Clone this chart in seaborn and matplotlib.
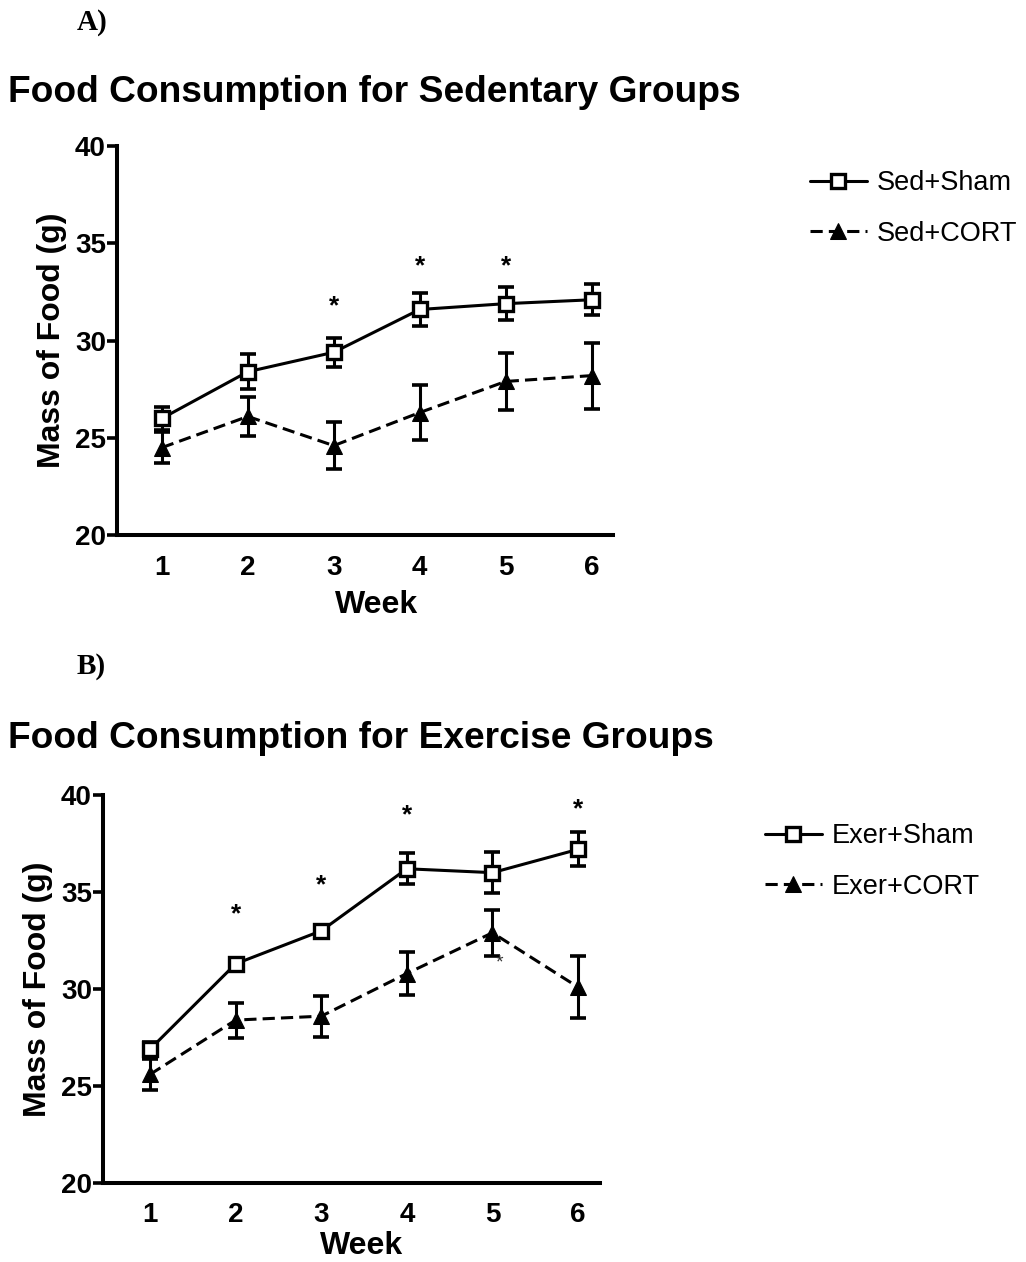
import matplotlib
matplotlib.use("Agg")
import matplotlib.pyplot as plt
import seaborn as sns
import pandas as pd

# ---- data (mean food mass per week, with SEM) ----
weeks = [1, 2, 3, 4, 5, 6]

sed_sham = [26.0, 28.4, 29.4, 31.6, 31.9, 32.1]
sed_sham_sem = [0.6, 0.9, 0.75, 0.85, 0.85, 0.8]
sed_cort = [24.5, 26.1, 24.6, 26.3, 27.9, 28.2]
sed_cort_sem = [0.8, 1.0, 1.2, 1.4, 1.45, 1.7]

exer_sham = [26.9, 31.3, 33.0, 36.2, 36.0, 37.2]
exer_sham_sem = [0.35, 0.3, 0.3, 0.8, 1.05, 0.87]
exer_cort = [25.6, 28.4, 28.6, 30.8, 32.9, 30.1]
exer_cort_sem = [0.8, 0.9, 1.05, 1.1, 1.2, 1.6]

# significance markers: (week, y position)
sed_stars = [(3, 32.1), (4, 34.2), (5, 34.2)]
exer_stars = [(2, 34.2), (3, 35.7), (4, 39.3), (6, 39.6)]
exer_extra_star = (5.08, 31.7)

sns.set_theme(style="ticks")
plt.rcParams["font.family"] = ["Liberation Sans", "DejaVu Sans"]
plt.rcParams.update({
    "axes.linewidth": 2.9,
    "text.color": "black",
    "axes.labelcolor": "black",
    "axes.edgecolor": "black",
    "xtick.color": "black",
    "ytick.color": "black",
})

fig = plt.figure(figsize=(10.26, 12.62), dpi=100)

LW = 2.2
DASH = (0, (4, 2))


def panel(ax, sham, sham_sem, cort, cort_sem, labels, stars, xlim, week_x,
          week_pad):
    df = pd.DataFrame({"Week": weeks * 2,
                       "Mass": sham + cort,
                       "Group": [labels[0]] * 6 + [labels[1]] * 6})
    # error bars first so that the markers sit on top
    ax.errorbar(weeks, sham, yerr=sham_sem, fmt="none", ecolor="black",
                elinewidth=2.2, capsize=6, capthick=2.6, zorder=2)
    ax.errorbar(weeks, cort, yerr=cort_sem, fmt="none", ecolor="black",
                elinewidth=2.2, capsize=6, capthick=2.6, zorder=2)
    sns.lineplot(data=df[df.Group == labels[0]], x="Week", y="Mass", ax=ax,
                 color="black", lw=LW, marker="s", markersize=10,
                 markerfacecolor="white", markeredgecolor="black",
                 markeredgewidth=2.4, label=labels[0], zorder=3)
    sns.lineplot(data=df[df.Group == labels[1]], x="Week", y="Mass", ax=ax,
                 color="black", lw=LW, linestyle=DASH, marker="^",
                 markersize=11, markerfacecolor="black",
                 markeredgecolor="black", label=labels[1], zorder=3)
    for wx, wy in stars:
        ax.annotate("*", (wx, wy), xytext=(0, -10), textcoords="offset points",
                    ha="center", va="baseline", fontsize=19, fontweight="bold")

    ax.set_xlim(*xlim)
    ax.set_ylim(20, 40)
    ax.set_yticks([20, 25, 30, 35, 40])
    ax.set_xticks(weeks)
    ax.set_xticklabels([str(w) for w in weeks])
    ax.tick_params(axis="y", length=7, width=2.6, pad=1, labelsize=20)
    ax.tick_params(axis="x", length=0, pad=14, labelsize=20)
    for t in ax.get_xticklabels() + ax.get_yticklabels():
        t.set_fontweight("bold")
    ax.set_xlabel("Week", fontsize=23, fontweight="bold", labelpad=week_pad)
    ax.xaxis.label.set_x(week_x)
    ax.set_ylabel("Mass of Food (g)", fontsize=23, fontweight="bold", labelpad=6)
    sns.despine(ax=ax)
    ax.get_legend().remove()
    ax.set_facecolor("white")


# Panel A: sedentary groups
axA = fig.add_axes([0.114, 0.576, 0.483, 0.3082])
panel(axA, sed_sham, sed_sham_sem, sed_cort, sed_cort_sem,
      ["Sed+Sham", "Sed+CORT"], sed_stars, (0.477, 6.244), 0.524, 7)

# Panel B: exercise groups
axB = fig.add_axes([0.1004, 0.0626, 0.4844, 0.3074])
panel(axB, exer_sham, exer_sham_sem, exer_cort, exer_cort_sem,
      ["Exer+Sham", "Exer+CORT"], exer_stars, (0.45, 6.257), 0.521, 2)
axB.annotate("*", exer_extra_star, xytext=(0, -8), textcoords="offset points",
             ha="center", va="baseline", fontsize=14, color="#333333")

for ax, anchor in ((axA, (810 / 1026, 1 - 170 / 1262)),
                   (axB, (765 / 1026, 1 - 823 / 1262))):
    h, l = ax.get_legend_handles_labels()
    fig.legend(h, l, loc="upper left", bbox_to_anchor=anchor,
               bbox_transform=fig.transFigure, frameon=False, fontsize=19.5,
               handlelength=2.1, handletextpad=0.35, labelspacing=0.92,
               borderpad=0, borderaxespad=0)

# panel letters and titles
fig.text(77 / 1026, 1 - 22 / 1262, "A)", family=["Liberation Serif"],
         fontsize=21, fontweight="bold", va="center", ha="left")
fig.text(77 / 1026, 1 - 667 / 1262, "B)", family=["Liberation Serif"],
         fontsize=21, fontweight="bold", va="center", ha="left")
fig.text(8 / 1026, 1 - 92 / 1262, "Food Consumption for Sedentary Groups",
         fontsize=26.7, fontweight="bold", va="center", ha="left")
fig.text(8 / 1026, 1 - 738 / 1262, "Food Consumption for Exercise Groups",
         fontsize=26.7, fontweight="bold", va="center", ha="left")

fig.savefig("out.png", dpi=100, facecolor="white")
